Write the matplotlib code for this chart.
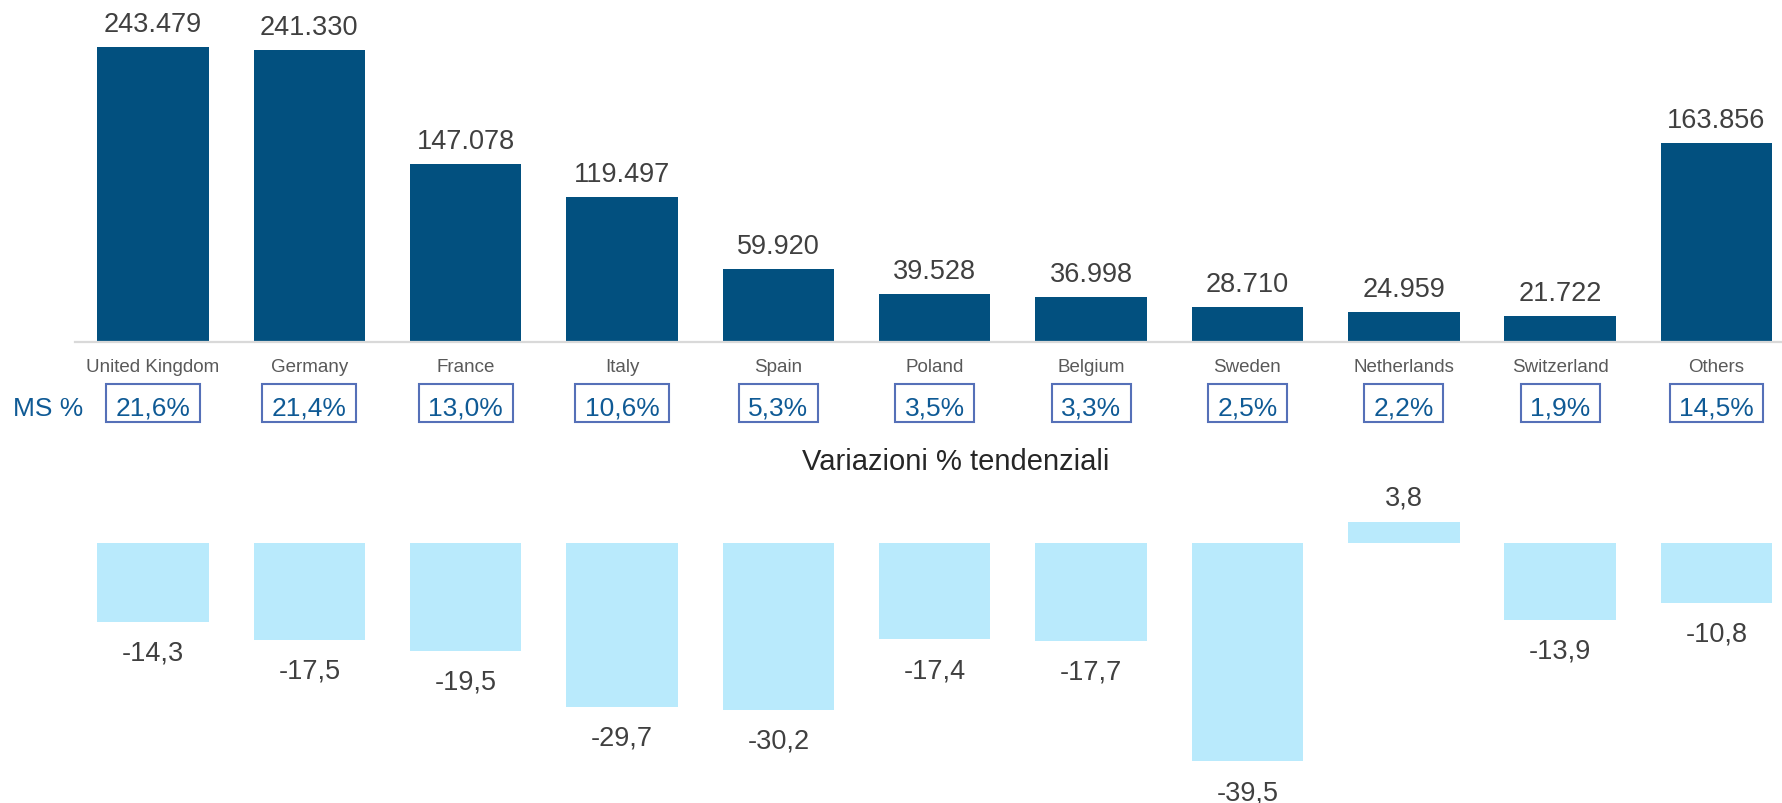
import matplotlib
matplotlib.use("Agg")
import matplotlib.pyplot as plt
from matplotlib.patches import Rectangle

plt.rcParams['font.family'] = ['Liberation Sans', 'DejaVu Sans']

countries = ["United Kingdom", "Germany", "France", "Italy", "Spain", "Poland",
             "Belgium", "Sweden", "Netherlands", "Switzerland", "Others"]
volumes = [243479, 241330, 147078, 119497, 59920, 39528, 36998, 28710, 24959, 21722, 163856]
volume_labels = ["243.479", "241.330", "147.078", "119.497", "59.920", "39.528",
                 "36.998", "28.710", "24.959", "21.722", "163.856"]
market_share = ["21,6%", "21,4%", "13,0%", "10,6%", "5,3%", "3,5%", "3,3%",
                "2,5%", "2,2%", "1,9%", "14,5%"]
variations = [-14.3, -17.5, -19.5, -29.7, -30.2, -17.4, -17.7, -39.5, 3.8, -13.9, -10.8]
variation_labels = ["-14,3", "-17,5", "-19,5", "-29,7", "-30,2", "-17,4", "-17,7",
                    "-39,5", "3,8", "-13,9", "-10,8"]
title_bottom = "Variazioni % tendenziali"
ms_title = "MS %"

W, H = 1783, 804
fig = plt.figure(figsize=(W / 100, H / 100), dpi=100)

dark_blue = "#02507F"
light_blue = "#B9EAFC"
ms_color = "#0F5A95"
box_color = "#5570B8"
val_color = "#404040"
cat_color = "#595959"

left = 74.8 / W
width = 11 * 156.35 / W
x = list(range(len(countries)))

# top panel
ax = fig.add_axes([left, (H - 343) / H, width, 343 / H])
vals_k = [v / 1000 for v in volumes]
ax.bar(x, vals_k, width=0.713, color=dark_blue)
ax.set_xlim(-0.5, 10.5)
ax.set_ylim(0, 343 / 1.2116)
for s in ["top", "right", "left"]:
    ax.spines[s].set_visible(False)
ax.spines["bottom"].set_color("#D9D9D9")
ax.spines["bottom"].set_linewidth(1.6)
ax.set_yticks([])
ax.set_xticks(x)
ax.set_xticklabels(countries, fontsize=13.5, color=cat_color)
ax.tick_params(axis="x", length=0, pad=11.5)
for i, (v, lab) in enumerate(zip(vals_k, volume_labels)):
    ax.annotate(lab, xy=(i, v), xytext=(0, 11.5), textcoords="offset points",
                ha="center", va="baseline", fontsize=19.5, color=val_color)

ms_texts = []
for i, lab in enumerate(market_share):
    t = ax.annotate(lab, xy=(i, 0), xytext=(0, -72.7 * 0.72), textcoords="offset points",
                    ha="center", va="baseline", fontsize=19, color=ms_color,
                    annotation_clip=False)
    ms_texts.append(t)

fig.text(13.5 / W, (H - 415.7) / H, ms_title, ha="left", va="baseline",
         fontsize=19, color=ms_color)

# bottom panel
ax2 = fig.add_axes([left, 0, width, 344 / H])
ax2.bar(x, variations, width=0.713, color=light_blue)
ax2.set_xlim(-0.5, 10.5)
ax2.set_ylim(-260 / 5.52, 84 / 5.52)
ax2.axis("off")
for i, (v, lab) in enumerate(zip(variations, variation_labels)):
    if v < 0:
        ax2.annotate(lab, xy=(i, v), xytext=(0, -13), textcoords="offset points",
                     ha="center", va="top", fontsize=19.5, color=val_color)
    else:
        ax2.annotate(lab, xy=(i, v), xytext=(0, 12.7), textcoords="offset points",
                     ha="center", va="baseline", fontsize=19.5, color=val_color)

fig.text(955.5 / W, (H - 470) / H, title_bottom, ha="center", va="baseline",
         fontsize=21, color="#262626")

# boxes around market share labels
fig.canvas.draw()
renderer = fig.canvas.get_renderer()
inv = fig.transFigure.inverted()
for i, t in enumerate(ms_texts):
    bb = t.get_window_extent(renderer)
    base_y = ax.transData.transform((i, 0))[1] - 72.7
    x0, x1 = bb.x0 - 9.5, bb.x1 + 9.5
    y0, y1 = base_y - 7.6, base_y + 30.7
    (fx0, fy0) = inv.transform((x0, y0))
    (fx1, fy1) = inv.transform((x1, y1))
    fig.patches.append(Rectangle((fx0, fy0), fx1 - fx0, fy1 - fy0, transform=fig.transFigure,
                                 fill=False, edgecolor=box_color, linewidth=1.5, figure=fig))

fig.savefig("out.png", dpi=100, facecolor="white")
